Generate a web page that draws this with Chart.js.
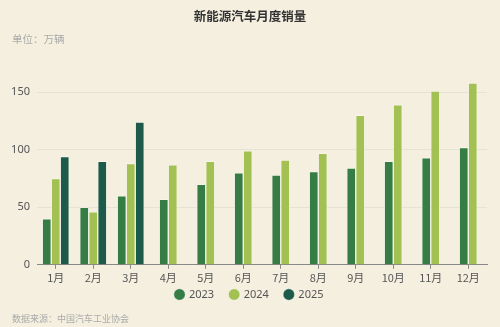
<!DOCTYPE html>
<html>
<head>
<meta charset="utf-8">
<script src="https://cdn.jsdelivr.net/npm/chart.js@4"></script>
<style>
  html, body { margin: 0; padding: 0; background: #f4efdf; }
  body { width: 500px; height: 327px; position: relative; overflow: hidden; font-family: "Noto Sans CJK SC", "Noto Sans", sans-serif; }
  #title { position: absolute; top: 6px; left: 0; width: 500px; text-align: center; font-size: 12.5px; font-weight: bold; color: #333; }
  #unit { position: absolute; top: 31px; left: 12px; font-size: 10.5px; color: #aaa; }
  #source { position: absolute; top: 312px; left: 12px; font-size: 9px; color: #aaa; }
  #wrap { position: absolute; top: 0; left: 0; width: 500px; height: 327px; }
</style>
</head>
<body>
<div id="wrap"><canvas id="salesChart"></canvas></div>
<div id="title">新能源汽车月度销量</div>
<div id="unit">单位：万辆</div>
<div id="source">数据来源：中国汽车工业协会</div>
<script>
const months = ['1月', '2月', '3月', '4月', '5月', '6月', '7月', '8月', '9月', '10月', '11月', '12月'];
const sales2023 = [40, 50, 60, 57, 70, 80, 78, 81, 84, 90, 93, 102];
const sales2024 = [75, 46, 88, 87, 90, 99, 91, 97, 130, 139, 151, 158];
const sales2025 = [94, 90, 124, null, null, null, null, null, null, null, null, null];
const yTicks = [0, 50, 100, 150];

const ctx = document.getElementById('salesChart');

function barSet(label, data, color) {
    return {
        label: label,
        data: data,
        backgroundColor: color,
        borderColor: 'rgba(255, 255, 255, 0.35)',
        borderWidth: 1,
        barThickness: 9,
        skipNull: true
    };
}

// pull the legend up a bit closer to the month labels
const legendShift = {
    id: 'legendShift',
    afterLayout(chart) {
        chart.legend.top -= 13;
        chart.legend.bottom -= 13;
    }
};

new Chart(ctx, {
    type: 'bar',
    data: {
        labels: months,
        datasets: [
            barSet('2023', sales2023, '#357d45'),
            barSet('2024', sales2024, '#a2c152'),
            barSet('2025', sales2025, '#1d5a4a')
        ]
    },
    plugins: [legendShift],
    options: {
        responsive: true,
        maintainAspectRatio: false,
        animation: false,
        layout: {
            padding: { top: 75, right: 13, bottom: 4, left: 12 }
        },
        plugins: {
            legend: {
                position: 'bottom',
                labels: {
                    usePointStyle: true,
                    pointStyle: 'circle',
                    boxWidth: 8,
                    boxHeight: 8,
                    padding: 16,
                    color: '#555',
                    font: { size: 11, family: 'Noto Sans' }
                }
            },
            tooltip: { enabled: false }
        },
        scales: {
            x: {
                grid: {
                    offset: false,
                    drawOnChartArea: false,
                    tickLength: 4,
                    color: '#888'
                },
                border: { color: '#888' },
                ticks: {
                    color: '#555',
                    padding: 2,
                    maxRotation: 0,
                    font: { size: 11, family: 'Noto Sans CJK SC' }
                }
            },
            y: {
                min: 0,
                max: 165,
                afterFit: (scale) => { scale.width = 25; },
                afterBuildTicks: (scale) => {
                    scale.ticks = yTicks.map(v => ({ value: v }));
                },
                grid: {
                    color: '#e6e2d6',
                    drawTicks: false
                },
                border: { display: false },
                ticks: {
                    color: '#555',
                    padding: 7,
                    font: { size: 11, family: 'Noto Sans' }
                }
            }
        }
    }
});
</script>
</body>
</html>
